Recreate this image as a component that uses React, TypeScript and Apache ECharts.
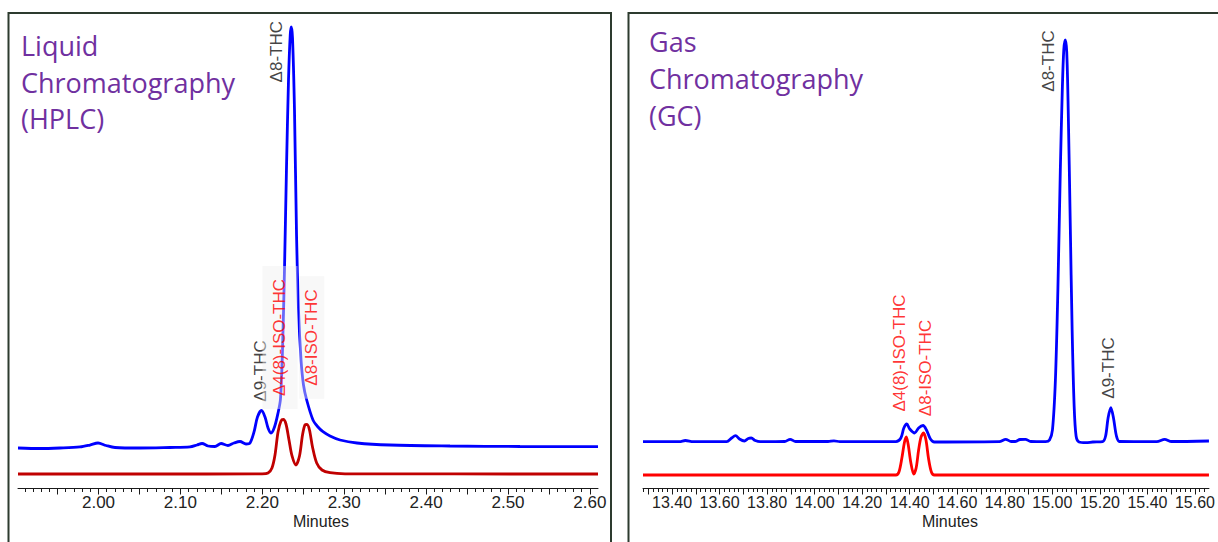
import React, { useEffect, useRef } from "react";
import * as echarts from "echarts";

// ---------- HPLC (left panel) ----------
const hplcSample: [number, number][] = [
  [1.9017, 8.35], [1.9286, 8.24], [1.953, 8.35], [1.9774, 8.57], [1.9896, 8.99],
  [1.9994, 9.42], [2.0092, 8.89], [2.0201, 8.46], [2.0507, 8.35], [2.0873, 8.46],
  [2.1117, 8.57], [2.1203, 8.99], [2.1264, 9.31], [2.1337, 8.78], [2.1422, 8.67],
  [2.1496, 9.31], [2.1581, 8.89], [2.1654, 9.42], [2.1728, 9.74], [2.1801, 9.21],
  [2.185, 9.42], [2.1899, 11.78], [2.1941, 14.99], [2.199, 16.38], [2.2033, 14.99],
  [2.207, 12.63], [2.2106, 11.56], [2.2149, 12.85], [2.2192, 15.85], [2.2222, 18.84],
  [2.2247, 29.55], [2.2271, 46.68], [2.2295, 67.99], [2.232, 87.15], [2.2341, 96.79],
  [2.2354, 98.5], [2.2369, 96.15], [2.2393, 80.73], [2.2418, 53.96], [2.2442, 37.9],
  [2.2473, 27.19], [2.2503, 21.84], [2.2542, 18.63], [2.2619, 14.35], [2.268, 12.85],
  [2.2741, 11.84], [2.2827, 10.92], [2.2949, 10.06], [2.3156, 9.42], [2.3559, 8.99],
  [2.4292, 8.78], [2.5147, 8.67], [2.6099, 8.63],
];
const hplcStandard: [number, number][] = [
  [1.9017, 2.78], [2.0629, 2.78], [2.1996, 2.83], [2.207, 3.0], [2.2118, 4.07],
  [2.2155, 6.85], [2.2192, 11.78], [2.2228, 14.13], [2.2256, 14.45], [2.2289, 13.49],
  [2.2326, 10.06], [2.2363, 6.64], [2.2411, 4.71], [2.2454, 6.64], [2.2491, 11.13],
  [2.2521, 13.28], [2.2546, 13.38], [2.2576, 12.21], [2.2613, 8.57], [2.2664, 5.14],
  [2.2729, 3.64], [2.2827, 3.06], [2.301, 2.83], [2.6099, 2.78],
];
const hplcTickLabels = [2.0, 2.1, 2.2, 2.3, 2.4, 2.5, 2.6];
const hplcMajorTicks = [1.95, 2.0, 2.05, 2.1, 2.15, 2.2, 2.25, 2.3, 2.35, 2.4, 2.45, 2.5, 2.55, 2.6];
const hplcRange = [1.9017, 2.6099];
// peak annotations: [time, level, text, isStandard]
const hplcPeaks: [number, number, string, boolean][] = [
  [2.2179, 93.21, "Δ8-THC", false],
  [2.198, 24.84, "Δ9-THC", false],
  [2.2216, 32.01, "Δ4(8)-ISO-THC", true],
  [2.2603, 32.01, "Δ8-ISO-THC", true],
];

// ---------- GC (right panel) ----------
const gcSample: [number, number][] = [
  [13.2778, 9.7], [13.4311, 9.7], [13.4559, 9.96], [13.489, 9.7], [13.6298, 9.7],
  [13.6505, 10.49], [13.6671, 10.99], [13.6836, 10.28], [13.7043, 9.85], [13.7209, 10.39],
  [13.7333, 10.49], [13.7499, 9.96], [13.7706, 9.7], [13.8741, 9.74], [13.8969, 10.21],
  [13.9197, 9.74], [14.0563, 9.74], [14.0812, 9.89], [14.106, 9.7], [14.342, 9.7],
  [14.3627, 10.49], [14.3752, 12.63], [14.3876, 13.49], [14.4, 12.42], [14.4207, 11.56],
  [14.4373, 12.63], [14.4559, 13.17], [14.4704, 12.21], [14.487, 10.28], [14.5035, 9.64],
  [14.5491, 9.64], [14.7768, 9.7], [14.8037, 10.21], [14.8265, 9.74], [14.8431, 9.74],
  [14.8638, 10.17], [14.8865, 10.21], [14.9093, 9.74], [14.9714, 9.7], [14.988, 10.06],
  [15.0004, 12.21], [15.0128, 22.91], [15.0232, 42.18], [15.0335, 67.88], [15.0418, 85.01],
  [15.048, 93.58], [15.0542, 95.72], [15.0605, 93.15], [15.0667, 80.73], [15.075, 57.17],
  [15.0832, 33.62], [15.0915, 17.56], [15.0998, 10.92], [15.1122, 9.64], [15.1412, 9.49],
  [15.1702, 9.64], [15.2116, 9.74], [15.224, 10.92], [15.2344, 14.78], [15.246, 16.98],
  [15.2571, 14.78], [15.2696, 10.92], [15.282, 9.74], [15.4393, 9.7], [15.4725, 10.21],
  [15.5014, 9.74], [15.6588, 9.85],
];
const gcStandard: [number, number][] = [
  [13.2778, 2.57], [14.342, 2.57], [14.3545, 3.21], [14.3669, 6.21], [14.3772, 9.42],
  [14.3855, 10.71], [14.3938, 8.99], [14.4041, 5.35], [14.4166, 2.78], [14.4269, 4.07],
  [14.4373, 7.92], [14.4476, 10.71], [14.458, 11.56], [14.4683, 10.06], [14.4787, 6.21],
  [14.4911, 3.21], [14.5035, 2.57], [15.6588, 2.57],
];
const gcTickLabels = [13.4, 13.6, 13.8, 14.0, 14.2, 14.4, 14.6, 14.8, 15.0, 15.2, 15.4, 15.6];
const gcMajorTicks = [
  13.3, 13.4, 13.5, 13.6, 13.7, 13.8, 13.9, 14.0, 14.1, 14.2, 14.3, 14.4,
  14.5, 14.6, 14.7, 14.8, 14.9, 15.0, 15.1, 15.2, 15.3, 15.4, 15.5, 15.6,
];
const gcRange = [13.2778, 15.6588];
const gcPeaks: [number, number, string, boolean][] = [
  [14.3586, 28.69, "Δ4(8)-ISO-THC", true],
  [14.4683, 25.48, "Δ8-ISO-THC", true],
  [14.9818, 91.22, "Δ8-THC", false],
  [15.2364, 25.48, "Δ9-THC", false],
];

const minorTicks = (from: number, to: number, step: number) => {
  const out: number[] = [];
  const n = Math.round((to - from) / step);
  for (let i = 0; i <= n; i++) out.push(+(from + i * step).toFixed(2));
  return out;
};

const AXIS_COLOR = "#1a1a1a";
const LABEL_FONT = "Liberation Sans";

function mainAxis(gridIndex: number, range: number[], majors: number[], labels: number[], fontSize: number) {
  return {
    type: "value",
    gridIndex,
    min: range[0],
    max: range[1],
    position: "bottom",
    offset: 1,
    axisLine: { show: true, onZero: false, lineStyle: { color: AXIS_COLOR, width: 1 } },
    axisTick: { show: true, customValues: majors, length: 6.5, lineStyle: { color: AXIS_COLOR, width: 1 } },
    axisLabel: {
      show: true,
      customValues: labels,
      formatter: (v: number) => v.toFixed(2),
      fontSize,
      fontFamily: LABEL_FONT,
      color: "#222",
      margin: 6,
    },
    splitLine: { show: false },
  };
}
function minorAxis(gridIndex: number, range: number[], minors: number[]) {
  return {
    type: "value",
    gridIndex,
    min: range[0],
    max: range[1],
    position: "bottom",
    offset: 1,
    axisLine: { show: false, onZero: false },
    axisTick: { show: true, customValues: minors, length: 4, lineStyle: { color: AXIS_COLOR, width: 1 } },
    axisLabel: { show: false },
    splitLine: { show: false },
  };
}

function peakSeries(xAxisIndex: number, yAxisIndex: number, peaks: [number, number, string, boolean][], boxed: boolean) {
  return {
    type: "scatter",
    xAxisIndex,
    yAxisIndex,
    symbolSize: 1,
    itemStyle: { color: "rgba(0,0,0,0)" },
    silent: true,
    z: 10,
    data: peaks.map((p, i) => {
      let padding: number[] = [0, 0, 0, 0];
      let backgroundColor: string = "transparent";
      if (boxed && p[3]) {
        backgroundColor = "rgba(240,240,240,0.55)";
        padding = i === 2 ? [9, 13, 9, 13] : [0, 13, 8, 13];
      }
      return {
        value: [p[0], p[1]],
        name: p[2],
        label: {
          show: true,
          position: "inside",
          rotate: 90,
          formatter: p[2],
          color: p[3] ? "#ff0000" : "#111",
          fontSize: 17,
          fontFamily: LABEL_FONT,
          backgroundColor,
          padding,
        },
      };
    }),
  };
}

export default function App() {
  const ref = useRef<HTMLDivElement>(null);
  useEffect(() => {
    if (!ref.current) return;
    const chart = echarts.init(ref.current, undefined, { renderer: "svg" });
    const titleStyle = (text: string, x: number, y: number) => ({
      type: "text",
      x,
      y,
      z: 20,
      style: {
        text,
        fill: "#7030a0",
        fontSize: 27,
        fontFamily: "Open Sans",
        align: "left",
        verticalAlign: "middle",
      },
    });
    const minutes = (x: number) => ({
      type: "text",
      x,
      y: 521,
      style: {
        text: "Minutes",
        fill: "#222",
        fontSize: 16,
        fontFamily: LABEL_FONT,
        align: "center",
        verticalAlign: "middle",
      },
    });
    chart.setOption({
      animation: false,
      backgroundColor: "#ffffff",
      grid: [
        { left: 18, top: 20, width: 580, height: 467 },
        { left: 643, top: 20, width: 575, height: 467 },
      ],
      xAxis: [
        mainAxis(0, hplcRange, hplcMajorTicks, hplcTickLabels, 17),
        minorAxis(0, hplcRange, minorTicks(1.91, 2.6, 0.01)),
        mainAxis(1, gcRange, gcMajorTicks, gcTickLabels, 16),
        minorAxis(1, gcRange, minorTicks(13.28, 15.64, 0.02)),
      ],
      yAxis: [
        { type: "value", gridIndex: 0, min: 0, max: 100, show: false },
        { type: "value", gridIndex: 1, min: 0, max: 100, show: false },
      ],
      series: [
        {
          type: "line", xAxisIndex: 0, yAxisIndex: 0, data: hplcSample, showSymbol: false,
          smooth: 0.3, silent: true, lineStyle: { color: "#0000ff", width: 2.8 },
        },
        {
          type: "line", xAxisIndex: 0, yAxisIndex: 0, data: hplcStandard, showSymbol: false,
          smooth: 0.3, silent: true, lineStyle: { color: "#c00000", width: 2.8 },
        },
        {
          type: "line", xAxisIndex: 2, yAxisIndex: 1, data: gcSample, showSymbol: false,
          smooth: 0.3, silent: true, lineStyle: { color: "#0000ff", width: 2.8 },
        },
        {
          type: "line", xAxisIndex: 2, yAxisIndex: 1, data: gcStandard, showSymbol: false,
          smooth: 0.3, silent: true, lineStyle: { color: "#ff0000", width: 2.8 },
        },
        peakSeries(0, 0, hplcPeaks, true),
        peakSeries(2, 1, gcPeaks, false),
      ],
      graphic: [
        {
          type: "rect", z: 30, silent: true,
          shape: { x: 8.5, y: 13, width: 602.5, height: 600 },
          style: { fill: "none", stroke: "#2d3b2f", lineWidth: 2 },
        },
        {
          type: "rect", z: 30, silent: true,
          shape: { x: 628.5, y: 13, width: 700, height: 600 },
          style: { fill: "none", stroke: "#2d3b2f", lineWidth: 2 },
        },
        titleStyle("Liquid", 21, 45.5),
        titleStyle("Chromatography", 21, 82.2),
        titleStyle("(HPLC)", 21, 118.8),
        titleStyle("Gas", 649, 41.2),
        titleStyle("Chromatography", 649, 78.8),
        titleStyle("(GC)", 649, 115.2),
        minutes(321),
        minutes(950),
      ],
    });
    return () => chart.dispose();
  }, []);
  return (
    <div
      ref={ref}
      style={{ position: "fixed", left: 0, top: 0, width: 1218, height: 542, background: "#fff" }}
    />
  );
}
